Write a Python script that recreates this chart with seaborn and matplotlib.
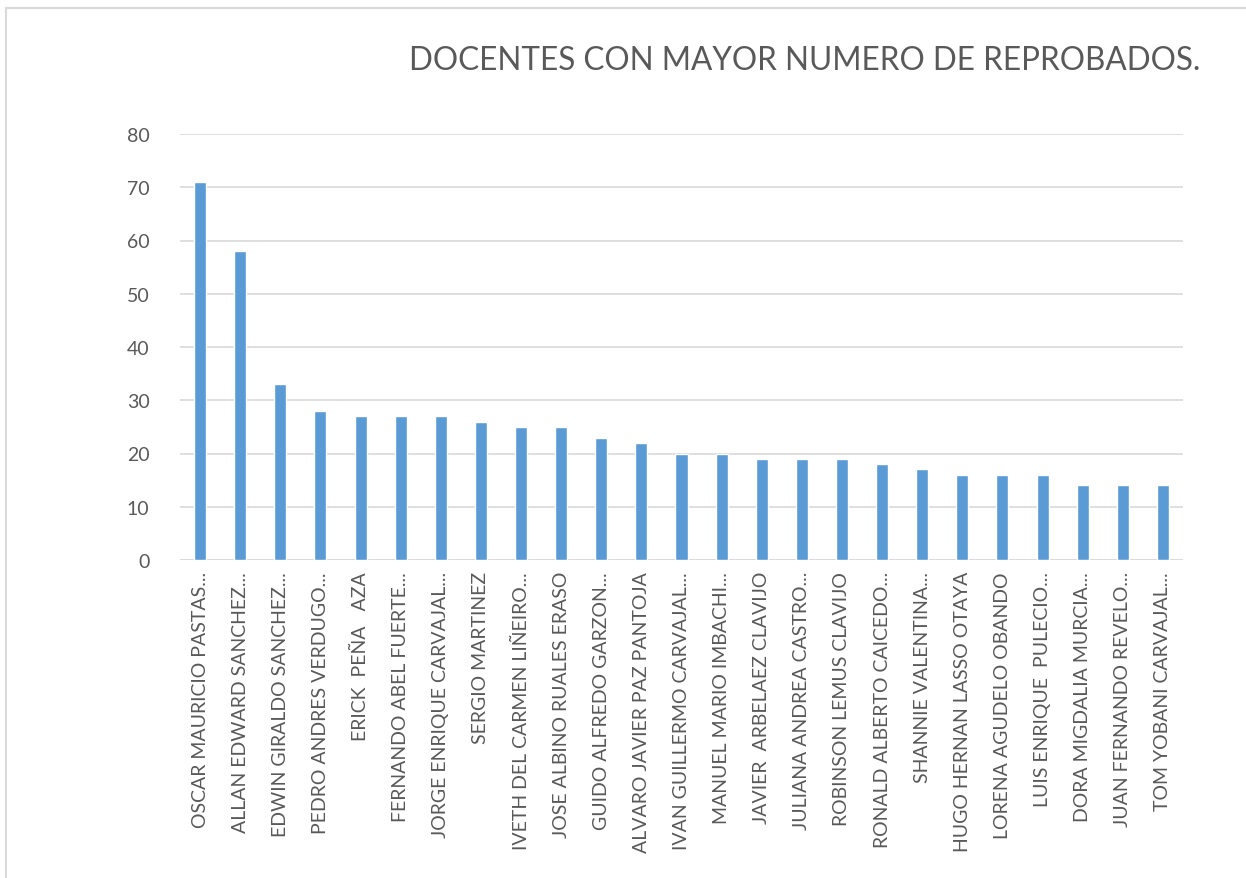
import matplotlib
matplotlib.use("Agg")
import matplotlib.pyplot as plt
import seaborn as sns
import pandas as pd
from matplotlib.patches import Rectangle

docentes = [
    "OSCAR MAURICIO PASTAS...", "ALLAN EDWARD SANCHEZ...", "EDWIN GIRALDO SANCHEZ...",
    "PEDRO ANDRES VERDUGO...", "ERICK  PEÑA   AZA", "FERNANDO ABEL FUERTE...",
    "JORGE ENRIQUE CARVAJAL...", "SERGIO MARTINEZ", "IVETH DEL CARMEN LIÑEIRO...",
    "JOSE ALBINO RUALES ERASO", "GUIDO ALFREDO GARZON...", "ALVARO JAVIER PAZ PANTOJA",
    "IVAN GUILLERMO CARVAJAL...", "MANUEL MARIO IMBACHI...", "JAVIER  ARBELAEZ CLAVIJO",
    "JULIANA ANDREA CASTRO...", "ROBINSON LEMUS CLAVIJO", "RONALD ALBERTO CAICEDO...",
    "SHANNIE VALENTINA...", "HUGO HERNAN LASSO OTAYA", "LORENA AGUDELO OBANDO",
    "LUIS ENRIQUE  PULECIO...", "DORA MIGDALIA MURCIA...", "JUAN FERNANDO REVELO...",
    "TOM YOBANI CARVAJAL...",
]
reprobados = [71, 58, 33, 28, 27, 27, 27, 26, 25, 25, 23, 22, 20, 20, 19, 19, 19, 18,
              17, 16, 16, 16, 14, 14, 14]
titulo = "DOCENTES CON MAYOR NUMERO DE REPROBADOS."
yticks = [0, 10, 20, 30, 40, 50, 60, 70, 80]

df = pd.DataFrame({"docente": docentes, "reprobados": reprobados})

sns.set_style("white")
plt.rcParams["font.family"] = ["Lato", "DejaVu Sans"]

W, H = 1246, 879
fig = plt.figure(figsize=(W / 100, H / 100), dpi=100)
ax = fig.add_axes([180 / W, 1 - 561 / H, (1183 - 180) / W, (561 - 135) / H])

sns.barplot(data=df, x="docente", y="reprobados", color="#5B9BD5", width=0.3,
            saturation=1, ax=ax, zorder=3)

ax.set_ylim(0, 80)
ax.set_yticks(yticks)
ax.set_xlim(-0.5, len(docentes) - 0.5)
ax.grid(axis="y", color="#D9D9D9", linewidth=1.2, zorder=0)
for s in ax.spines.values():
    s.set_visible(False)
ax.axhline(0, color="#D9D9D9", linewidth=1.2, zorder=2)
ax.set_xlabel("")
ax.set_ylabel("")
ax.tick_params(axis="y", length=0, pad=22, labelsize=14, labelcolor="#595959")
ax.tick_params(axis="x", length=0, pad=8, labelsize=14, labelcolor="#595959")
plt.setp(ax.get_xticklabels(), rotation=90, ha="center", va="top")

fig.text(1200 / W, 1 - 61 / H, titulo, ha="right", va="center", fontsize=22.7,
         color="#595959", fontweight="normal")

# chart border
fig.patches.append(Rectangle((6 / W, -0.1), 1.2, 1 - 9 / H + 0.1, transform=fig.transFigure,
                             fill=False, edgecolor="#D9D9D9", linewidth=1.5))

fig.savefig("out.png", dpi=100, facecolor="white")
